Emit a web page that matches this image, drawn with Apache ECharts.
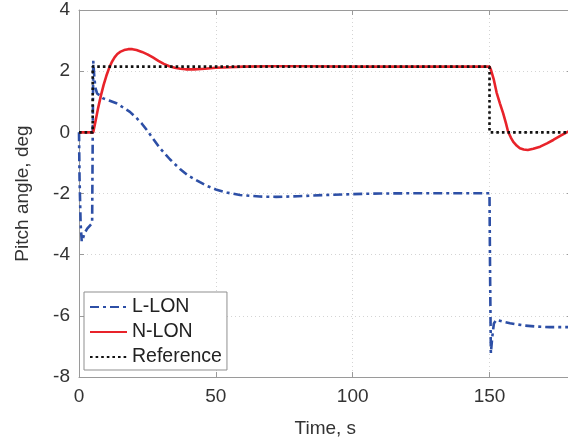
<!DOCTYPE html>
<html>
<head>
<meta charset="utf-8">
<script src="https://cdn.jsdelivr.net/npm/echarts@6/dist/echarts.min.js"></script>
<style>
html,body{margin:0;padding:0;background:#fff;}
#c{width:568px;height:438px;}
</style>
</head>
<body>
<div id="c"></div>
<script>
// Time (s) and pitch angle (deg) samples
const lLonT = [0,0.2,0.6,1.0,1.5,2,3,4,4.8,5.0,5.2,5.6,6,6.6,8,8.8,11,13.7,16,18.6,21,22.9,25,27,29.6,33.2,36.9,40,44.2,47,50.3,54,58.8,66,72,80,90,100,110,125,150,150.2,150.5,151,151.6,152.5,155,157.5,160,163,167,172,180];
const lLonY = [0,-1.5,-3.0,-3.57,-3.45,-3.3,-3.15,-3.05,-2.97,-2.95,2.34,1.8,1.45,1.27,1.18,1.11,1.04,0.95,0.82,0.67,0.47,0.29,0.05,-0.2,-0.52,-0.88,-1.2,-1.42,-1.63,-1.76,-1.88,-1.97,-2.05,-2.1,-2.11,-2.09,-2.05,-2.02,-2.0,-1.99,-1.99,-4.5,-7.22,-6.7,-6.25,-6.13,-6.19,-6.24,-6.28,-6.32,-6.35,-6.37,-6.37];

const nLonT = [0,5.2,6,7,8,9,10,11,12,13,14,15,16.5,18,19.5,21,23,25,27,29,31,33,35,37,39,42,46,50,55,60,70,80,100,150,150.5,151.5,152.6,153.8,155,156,156.8,157.8,158.7,160,161.1,162.5,164,166,168.5,171,173.3,176,178.2,180];
const nLonY = [0,0,0.35,0.8,1.2,1.55,1.85,2.1,2.3,2.45,2.56,2.63,2.69,2.72,2.72,2.69,2.63,2.55,2.45,2.34,2.24,2.16,2.11,2.08,2.06,2.06,2.08,2.11,2.13,2.15,2.16,2.16,2.15,2.15,2.05,1.75,1.3,0.95,0.62,0.3,0.02,-0.17,-0.31,-0.44,-0.52,-0.56,-0.58,-0.54,-0.47,-0.36,-0.25,-0.11,0,0.07];

const refT = [0,5,5,150,150,180];
const refY = [0,0,2.15,2.15,0,0];

const seriesNames = ['L-LON','N-LON','Reference'];
const xTicks = {min:0, max:180, interval:50};
const yTicks = {min:-8, max:4, interval:2};

function pairs(t, y){ return t.map((v,i)=>[v,y[i]]); }

const FONT = 'Liberation Sans, Arial, Helvetica, sans-serif';
const TXT = '#333333';
const AX = '#9a9a9a';

const chart = echarts.init(document.getElementById('c'), null, {renderer:'canvas'});
const common = {
  type:'value',
  axisLine:{show:true, onZero:false, lineStyle:{color:AX, width:1}},
  axisTick:{show:true, inside:true, length:5, lineStyle:{color:AX}},
};
chart.setOption({
  animation:false,
  backgroundColor:'#ffffff',
  grid:{left:79, top:10, width:492.6, height:367, containLabel:false, outerBoundsMode:'none'},
  xAxis:[
    Object.assign({}, common, {
      position:'bottom', min:xTicks.min, max:xTicks.max, interval:xTicks.interval,
      name:'Time, s', nameLocation:'middle', nameGap:42,
      nameTextStyle:{fontFamily:FONT, fontSize:19, color:TXT},
      axisLabel:{fontFamily:FONT, fontSize:19, color:TXT, margin:10, showMaxLabel:false},
      splitLine:{show:true, lineStyle:{color:'#d4d4d4', type:[1,3], width:1}}
    }),
    Object.assign({}, common, {
      position:'top', min:xTicks.min, max:xTicks.max, interval:xTicks.interval,
      axisLabel:{show:false}, splitLine:{show:false}
    })
  ],
  yAxis:[
    Object.assign({}, common, {
      position:'left', min:yTicks.min, max:yTicks.max, interval:yTicks.interval,
      name:'Pitch angle, deg', nameLocation:'middle', nameGap:47,
      nameTextStyle:{fontFamily:FONT, fontSize:19, color:TXT},
      axisLabel:{fontFamily:FONT, fontSize:19, color:TXT, margin:9},
      splitLine:{show:true, lineStyle:{color:'#d4d4d4', type:[1,3], width:1}}
    }),
    Object.assign({}, common, {
      position:'right', min:yTicks.min, max:yTicks.max, interval:yTicks.interval,
      axisLabel:{show:false}, splitLine:{show:false}
    })
  ],
  legend:{
    orient:'vertical', left:84, top:292,
    data:seriesNames,
    itemWidth:37, itemHeight:14, itemGap:5,
    padding:[5,5,3,5],
    itemStyle:{opacity:0},
    borderColor:'#8f8f8f', borderWidth:1, backgroundColor:'#ffffff',
    textStyle:{fontFamily:FONT, fontSize:19.5, color:'#222'}
  },
  series:[
    {name:seriesNames[0], type:'line', data:pairs(lLonT,lLonY), showSymbol:false, symbol:'none',
     lineStyle:{color:'#2d4fa6', width:2.6, type:[9,4,3,4]}, itemStyle:{color:'#2d4fa6'}},
    {name:seriesNames[1], type:'line', data:pairs(nLonT,nLonY), showSymbol:false, symbol:'none',
     lineStyle:{color:'#e8232a', width:2.6, type:'solid'}, itemStyle:{color:'#e8232a'}},
    {name:seriesNames[2], type:'line', data:pairs(refT,refY), showSymbol:false, symbol:'none',
     lineStyle:{color:'#111111', width:2.6, type:[2.6,3]}, itemStyle:{color:'#111111'}}
  ]
});
</script>
</body>
</html>
